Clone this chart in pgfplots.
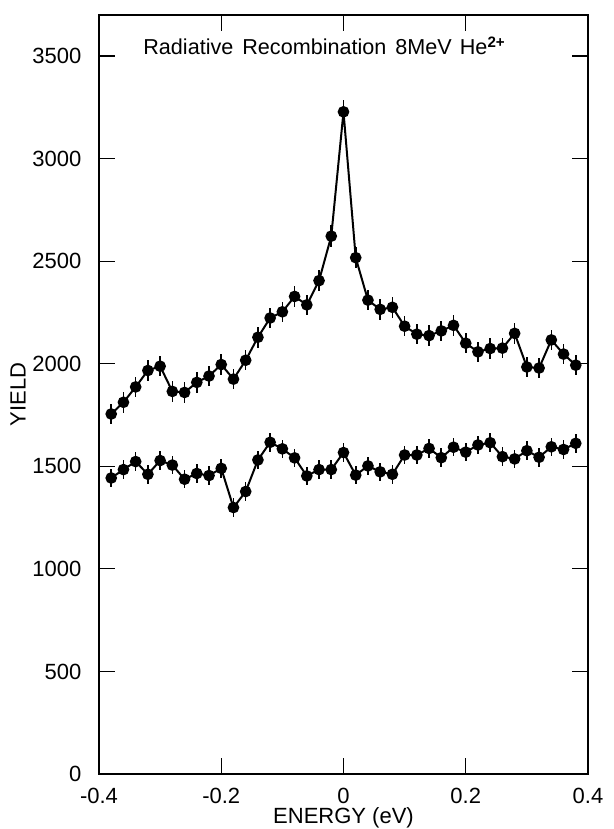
\documentclass[border=0pt]{standalone}
\usepackage{pgfplots}
\usepackage{pgfplotstable}
\pgfplotsset{compat=1.18}
\usepackage{fontspec}
\setmainfont{Liberation Sans}
\pgfplotstableread{
x y e
-0.38 1755 50
-0.36 1812 50
-0.34 1887 50
-0.32 1967 50
-0.30 1988 50
-0.28 1865 50
-0.26 1860 50
-0.24 1909 50
-0.22 1940 50
-0.20 1996 50
-0.18 1925 50
-0.16 2017 50
-0.14 2129 50
-0.12 2223 50
-0.10 2253 50
-0.08 2328 50
-0.06 2287 50
-0.04 2405 50
-0.02 2622 52
0.00 3228 58
0.02 2517 52
0.04 2310 50
0.06 2265 50
0.08 2275 50
0.10 2183 50
0.12 2144 50
0.14 2137 50
0.16 2160 50
0.18 2187 50
0.20 2100 50
0.22 2058 50
0.24 2074 50
0.26 2076 50
0.28 2148 50
0.30 1984 50
0.32 1979 50
0.34 2116 50
0.36 2047 50
0.38 1993 50
}\upperdata
\pgfplotstableread{
x y e
-0.38 1443 45
-0.36 1484 45
-0.34 1523 45
-0.32 1461 45
-0.30 1528 45
-0.28 1506 45
-0.26 1437 45
-0.24 1465 45
-0.22 1455 45
-0.20 1490 45
-0.18 1299 45
-0.16 1377 45
-0.14 1531 45
-0.12 1617 45
-0.10 1585 45
-0.08 1541 45
-0.06 1453 45
-0.04 1484 45
-0.02 1484 45
0.00 1567 45
0.02 1457 45
0.04 1502 45
0.06 1473 45
0.08 1461 45
0.10 1555 45
0.12 1555 45
0.14 1587 45
0.16 1542 45
0.18 1593 45
0.20 1569 45
0.22 1604 45
0.24 1615 45
0.26 1547 45
0.28 1536 45
0.30 1576 45
0.32 1544 45
0.34 1595 45
0.36 1582 45
0.38 1612 45
}\lowerdata
\begin{document}
\fontsize{11}{13}\selectfont
\begin{tikzpicture}
\path[use as bounding box] (-49.5pt,-27.5pt) rectangle (257.5pt,387pt);
\begin{axis}[
  at={(0,0)}, anchor=south west,
  scale only axis, width=244.5pt, height=379.5pt,
  xmin=-0.4, xmax=0.4, ymin=0, ymax=3700,
  xtick={-0.4,-0.2,0,0.2,0.4},
  xticklabels={-0.4,-0.2,0,0.2,0.4},
  ytick={0,500,1000,1500,2000,2500,3000,3500},
  yticklabels={0,500,1000,1500,2000,2500,3000,3500},
  tick align=inside, major tick length=8pt,
  axis line style={line width=0.6pt},
  every tick/.style={black, line width=0.6pt},
  ticklabel style={font=\fontsize{11}{13}\selectfont},
  xticklabel style={yshift=-3pt},
  yticklabel style={xshift=-5pt},
  xlabel={ENERGY (eV)}, ylabel={YIELD},
  label style={font=\fontsize{11}{13}\selectfont},
  xlabel style={at={(axis description cs:0.5,0)}, anchor=center, yshift=-22pt},
  ylabel style={at={(axis description cs:0,0.5)}, anchor=center, yshift=40.5pt},
  clip=false,
]
\addplot[black, line width=1pt, mark=*, mark size=2.4pt, mark options={solid, fill=black},
  error bars/.cd, y dir=both, y explicit, error mark=none,
  error bar style={line width=0.8pt, black}]
  table[x=x, y=y, y error=e] {\upperdata};
\addplot[black, line width=1pt, mark=*, mark size=2.4pt, mark options={solid, fill=black},
  error bars/.cd, y dir=both, y explicit, error mark=none,
  error bar style={line width=0.8pt, black}]
  table[x=x, y=y, y error=e] {\lowerdata};
\node[anchor=base, font=\fontsize{10.8}{13}\selectfont] at (axis cs:-0.031,3505)
  {Radiative\hspace{4.5pt}Recombination\hspace{4.5pt}8MeV\hspace{4pt}He\textsuperscript{\textbf{2+}}};
\end{axis}
\end{tikzpicture}
\end{document}
